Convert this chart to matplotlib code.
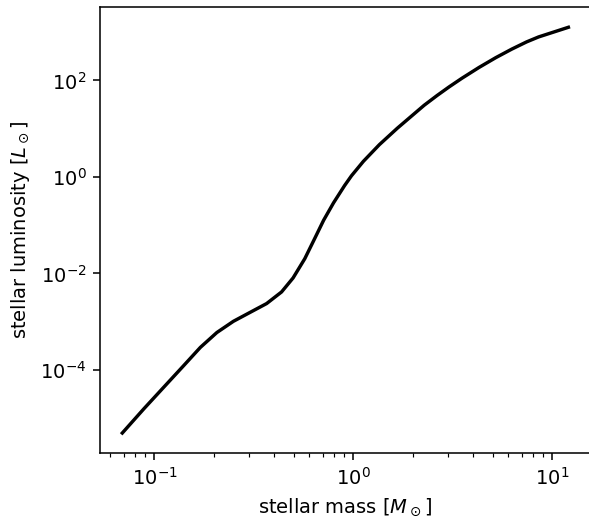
import numpy as np
import matplotlib.pyplot as plt
from matplotlib.ticker import NullLocator

# main-sequence mass-luminosity relation (solar units)
mass = [0.0689, 0.0884, 0.1113, 0.1401, 0.170, 0.2058, 0.2491, 0.302,
        0.366, 0.435, 0.497, 0.569, 0.638, 0.708, 0.794, 0.902, 0.977,
        1.122, 1.349, 1.660, 2.265, 2.630, 3.02, 3.51, 4.27, 5.19, 6.24,
        7.41, 8.51, 12.02]
lum = [4.95e-6, 1.57e-5, 4.40e-5, 1.23e-4, 2.94e-4, 5.98e-4, 1.02e-3,
       1.56e-3, 2.38e-3, 4.14e-3, 8.07e-3, 0.0202, 0.0527, 0.127, 0.291,
       0.662, 1.057, 2.11, 4.66, 10.2, 30.5, 48.6, 73.1, 111, 185, 296,
       444, 627, 794, 1259]
yticks = [1e-4, 1e-2, 1e0, 1e2]

fig = plt.figure(figsize=(589/140, 521/140), dpi=140)
ax = fig.add_axes([100/589, 67.7/521, 490.7/589, 446.3/521])
ax.plot(mass, lum, color='k', lw=1.75)
ax.set_xscale('log')
ax.set_yscale('log')
ax.set_yticks(yticks)
ax.yaxis.set_minor_locator(NullLocator())
ax.set_xlabel(r'stellar mass [$M_\odot$]')
ax.set_ylabel(r'stellar luminosity [$L_\odot$]')
fig.savefig('out.png', dpi=140)
